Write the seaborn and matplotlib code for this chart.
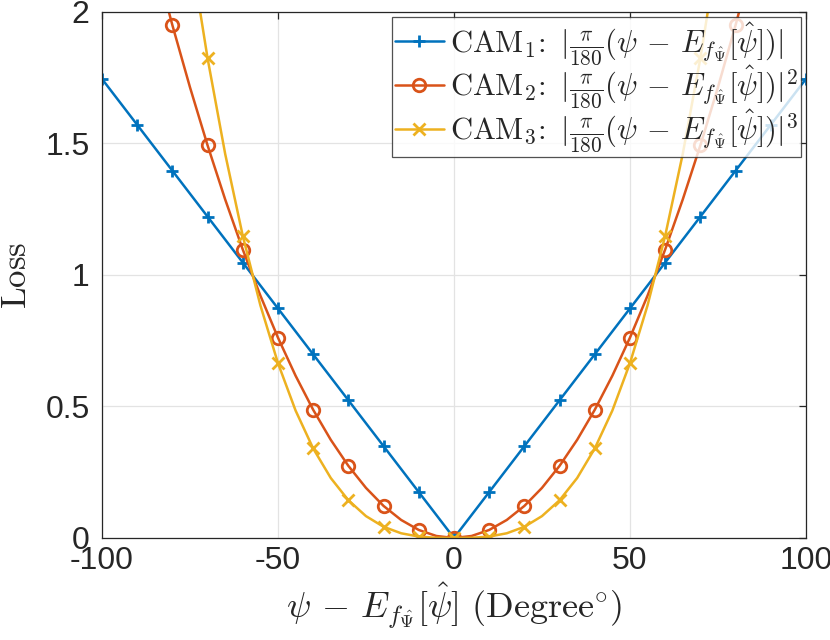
import numpy as np
import pandas as pd
import matplotlib
matplotlib.use('Agg')
import matplotlib.pyplot as plt
import seaborn as sns

# angle error in degrees, one value every 5 degrees (markers every 10)
deg = [-100, -95, -90, -85, -80, -75, -70, -65, -60, -55, -50, -45, -40, -35, -30, -25, -20, -15, -10, -5,
       0, 5, 10, 15, 20, 25, 30, 35, 40, 45, 50, 55, 60, 65, 70, 75, 80, 85, 90, 95, 100]

# loss values
cam1 = [1.7453, 1.6581, 1.5708, 1.4835, 1.3963, 1.3090, 1.2217, 1.1345, 1.0472, 0.9599, 0.8727,
        0.7854, 0.6981, 0.6109, 0.5236, 0.4363, 0.3491, 0.2618, 0.1745, 0.0873,
        0.0, 0.0873, 0.1745, 0.2618, 0.3491, 0.4363, 0.5236, 0.6109, 0.6981, 0.7854, 0.8727,
        0.9599, 1.0472, 1.1345, 1.2217, 1.3090, 1.3963, 1.4835, 1.5708, 1.6581, 1.7453]
cam2 = [3.0462, 2.7492, 2.4674, 2.2009, 1.9496, 1.7135, 1.4926, 1.2870, 1.0966, 0.9215, 0.7615,
        0.6169, 0.4874, 0.3732, 0.2742, 0.1904, 0.1218, 0.0685, 0.0305, 0.0076,
        0.0, 0.0076, 0.0305, 0.0685, 0.1218, 0.1904, 0.2742, 0.3732, 0.4874, 0.6169, 0.7615,
        0.9215, 1.0966, 1.2870, 1.4926, 1.7135, 1.9496, 2.2009, 2.4674, 2.7492, 3.0462]
cam3 = [5.3165, 4.5580, 3.8758, 3.2650, 2.7222, 2.2430, 1.8236, 1.4601, 1.1484, 0.8845, 0.6646,
        0.4845, 0.3403, 0.2280, 0.1435, 0.0831, 0.0425, 0.0179, 0.0053, 0.0007,
        0.0, 0.0007, 0.0053, 0.0179, 0.0425, 0.0831, 0.1435, 0.2280, 0.3403, 0.4845, 0.6646,
        0.8845, 1.1484, 1.4601, 1.8236, 2.2430, 2.7222, 3.2650, 3.8758, 4.5580, 5.3165]

body = r'|\frac{\pi}{180}(\psi \,-\, E_{f_{\hat{\Psi}}}[\hat{\psi}])|'
labels = [r'$\mathrm{CAM}_1\!:\ ' + body + r'$',
          r'$\mathrm{CAM}_2\!:\ ' + body + r'^2$',
          r'$\mathrm{CAM}_3\!:\ ' + body + r'^3$']
colors = ['#0072BD', '#D95319', '#EDB120']
markers = ['+', 'o', 'x']

sns.set_style('white')
plt.rcParams['font.family'] = ['Liberation Sans', 'DejaVu Sans']
plt.rcParams['mathtext.fontset'] = 'cm'
plt.rcParams['axes.unicode_minus'] = False

fig = plt.figure(figsize=(8.3, 6.4), dpi=100)
ax = fig.add_axes([0.1229, 0.1594, 0.8481, 0.8219])

for vals, lab, c, m in zip([cam1, cam2, cam3], labels, colors, markers):
    sns.lineplot(x=deg, y=vals, ax=ax, color=c, marker=m, markevery=2, label=lab,
                 linewidth=1.8, markersize=9, markeredgewidth=2.0,
                 markerfacecolor='none', markeredgecolor=c)

ax.set_xlim(-100, 100)
ax.set_ylim(0, 2)
ax.set_xticks([-100, -50, 0, 50, 100])
ax.set_yticks([0, 0.5, 1, 1.5, 2])
ax.set_yticklabels(['0', '0.5', '1', '1.5', '2'])
ax.grid(True, color='#e3e3e3', linewidth=0.9)
ax.set_axisbelow(True)
for s in ax.spines.values():
    s.set_color('#262626')
    s.set_linewidth(0.9)
ax.tick_params(direction='in', length=5, width=0.9, labelsize=23, color='#262626',
               top=True, right=True, labelcolor='#262626')
ax.tick_params(axis='y', pad=9)
ax.tick_params(axis='x', pad=6)

ax.set_xlabel(r'$\psi \,-\, E_{f_{\hat{\Psi}}}[\hat{\psi}]\ (\mathrm{Degree}^{\circ})$', fontsize=26, labelpad=3)
ax.set_ylabel(r'$\mathrm{Loss}$', fontsize=25, labelpad=9)

leg = ax.legend(loc='upper right', fontsize=22, frameon=True, fancybox=False, borderaxespad=0.15,
                handlelength=1.6, handletextpad=0.2, borderpad=0.1, labelspacing=-0.1)
leg.get_frame().set_edgecolor('#262626')
leg.get_frame().set_linewidth(0.9)

fig.savefig('out.png', dpi=100)
